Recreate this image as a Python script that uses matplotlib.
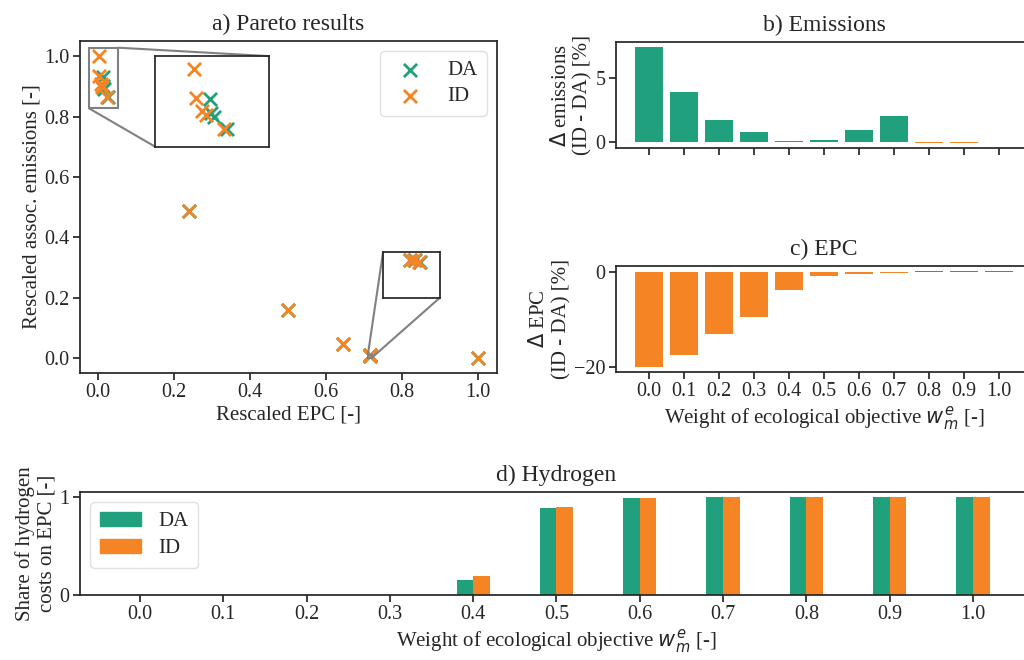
import numpy as np
import matplotlib
matplotlib.use("Agg")
import matplotlib.pyplot as plt
from matplotlib.patches import Patch
from mpl_toolkits.axes_grid1.inset_locator import mark_inset

plt.rcParams.update({
    "font.family": ["Liberation Serif", "DejaVu Serif"],
    "font.size": 15,
    "axes.edgecolor": "#262626",
    "axes.linewidth": 1.25,
    "axes.labelcolor": "#262626",
    "text.color": "#262626",
    "xtick.color": "#262626",
    "ytick.color": "#262626",
    "xtick.direction": "out",
    "ytick.direction": "out",
    "xtick.major.size": 5,
    "ytick.major.size": 5,
    "xtick.major.pad": 2.5,
    "ytick.major.pad": 2.5,
    "xtick.major.width": 1.25,
    "ytick.major.width": 1.25,
    "xtick.labelsize": 14.5,
    "ytick.labelsize": 14.5,
    "axes.titlesize": 17,
    "axes.titlepad": 8,
    "axes.labelsize": 15,
    "axes.labelpad": 2,
    "legend.fontsize": 15,
})

GREEN = "#21a07e"
ORANGE = "#f58524"

# pareto points (rescaled EPC, rescaled emissions)
da_epc = [0.0131, 0.0140, 0.0159, 0.0248, 0.238, 0.499, 0.644, 0.7148, 0.7156, 0.7164, 1.0]
da_em = [0.932, 0.901, 0.8925, 0.866, 0.487, 0.160, 0.046, 0.0084, 0.0082, 0.0078, 0.0]
id_epc = [0.002, 0.0035, 0.0076, 0.0103, 0.0226, 0.238, 0.499, 0.644, 0.7147, 0.7155, 0.7163, 1.0]
id_em = [1.0, 0.935, 0.907, 0.898, 0.866, 0.487, 0.160, 0.046, 0.0084, 0.0082, 0.0078, 0.0]

weights = ["0.0", "0.1", "0.2", "0.3", "0.4", "0.5", "0.6", "0.7", "0.8", "0.9", "1.0"]
delta_emissions = [7.40, 3.88, 1.74, 0.82, 0.08, 0.20, 0.92, 2.04, -0.07, -0.07, 0.0]
delta_epc = [-20.1, -17.6, -13.2, -9.5, -3.9, -1.0, -0.6, -0.4, 0.15, 0.15, 0.15]
h2_share_da = [0, 0, 0, 0, 0.155, 0.888, 0.987, 1.0, 1.0, 1.0, 1.0]
h2_share_id = [0, 0, 0, 0, 0.195, 0.898, 0.987, 1.0, 1.0, 1.0, 1.0]

fig = plt.figure(figsize=(10.24, 6.6), dpi=100)
ax_a = fig.add_axes([0.0781, 0.4348, 0.4072, 0.503])
ax_b = fig.add_axes([0.6016, 0.7758, 0.4063, 0.1606])
ax_c = fig.add_axes([0.6016, 0.4364, 0.4063, 0.1606])
ax_d = fig.add_axes([0.0781, 0.0985, 0.9307, 0.1560])

# a) pareto
mkw = dict(marker="x", s=90, linewidths=2)
ax_a.scatter(da_epc, da_em, color=GREEN, label="DA", **mkw)
ax_a.scatter(id_epc, id_em, color=ORANGE, label="ID", **mkw)
ax_a.set_xlabel("Rescaled EPC [-]")
ax_a.set_ylabel("Rescaled assoc. emissions [-]")
ax_a.set_title("a) Pareto results")
ax_a.set_xticks([0.0, 0.2, 0.4, 0.6, 0.8, 1.0])
ax_a.set_yticks([0.0, 0.2, 0.4, 0.6, 0.8, 1.0])
ax_a.legend(loc="upper right", borderpad=0.45, handletextpad=0.75, labelspacing=0.3,
            fancybox=True, edgecolor="0.85", borderaxespad=0.5)

zooms = [((0.15, 0.70, 0.30, 0.30), (-0.024, 0.053), (0.827, 1.028), (1, 3)),
         ((0.75, 0.20, 0.15, 0.15), (0.710, 0.720), (0.000, 0.010), (2, 4))]
for bounds, xl, yl, locs in zooms:
    axins = ax_a.inset_axes(bounds, transform=ax_a.transData)
    axins.scatter(da_epc, da_em, color=GREEN, **mkw)
    axins.scatter(id_epc, id_em, color=ORANGE, **mkw)
    axins.set_xlim(*xl)
    axins.set_ylim(*yl)
    axins.set_xticks([])
    axins.set_yticks([])
    mark_inset(ax_a, axins, loc1=locs[0], loc2=locs[1], fc="none", ec="0.5", lw=1.5)

x = np.arange(len(weights))

# b) emissions
ax_b.bar(x, delta_emissions, width=0.8,
         color=[GREEN if v >= 0 else ORANGE for v in delta_emissions])
ax_b.set_title("b) Emissions")
ax_b.set_ylabel("$\\Delta$ emissions\n(ID - DA) [%]")
ax_b.set_xticks(x)
ax_b.set_xticklabels([])
ax_b.set_yticks([0, 5])

# c) epc
ax_c.bar(x, delta_epc, width=0.8,
         color=[GREEN if v >= 0 else ORANGE for v in delta_epc])
ax_c.set_title("c) EPC")
ax_c.set_ylabel("$\\Delta$ EPC\n(ID - DA) [%]")
ax_c.set_xticks(x)
ax_c.set_xticklabels(weights)
ax_c.set_yticks([-20, 0])
ax_c.set_xlabel("Weight of ecological objective $w^e_m$ [-]")

# d) hydrogen
ax_d.bar(x - 0.1, h2_share_da, width=0.2, color=GREEN)
ax_d.bar(x + 0.1, h2_share_id, width=0.2, color=ORANGE)
ax_d.set_title("d) Hydrogen")
ax_d.set_ylabel("Share of hydrogen\ncosts on EPC [-]")
ax_d.set_xlabel("Weight of ecological objective $w^e_m$ [-]")
ax_d.set_xticks(x)
ax_d.set_xticklabels(weights)
ax_d.set_yticks([0, 1])
ax_d.legend(handles=[Patch(color=GREEN, label="DA"), Patch(color=ORANGE, label="ID")],
            loc="upper left", borderpad=0.45, handletextpad=0.8, handlelength=2.0,
            labelspacing=0.35, fancybox=True, edgecolor="0.85", borderaxespad=0.5)

fig.savefig("out.png", dpi=100)
